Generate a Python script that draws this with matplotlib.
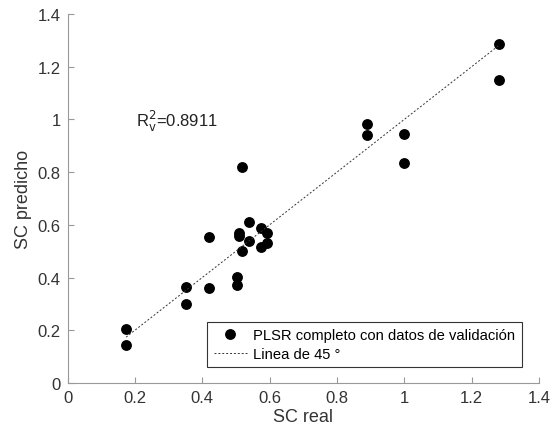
import matplotlib
matplotlib.use("Agg")
import matplotlib.pyplot as plt

sc_real = [0.174, 0.174, 0.352, 0.352, 0.420, 0.420, 0.503, 0.503, 0.509, 0.509,
           0.517, 0.539, 0.539, 0.575, 0.575, 0.591, 0.591, 0.517, 0.888, 0.888,
           0.999, 0.999, 1.282, 1.282]
sc_pred = [0.204, 0.143, 0.363, 0.300, 0.553, 0.360, 0.403, 0.372, 0.568, 0.558,
           0.502, 0.612, 0.539, 0.587, 0.515, 0.570, 0.530, 0.818, 0.984, 0.942,
           0.945, 0.835, 1.285, 1.148]
ticks = [0, 0.2, 0.4, 0.6, 0.8, 1, 1.2, 1.4]
tick_labels = ["0", "0.2", "0.4", "0.6", "0.8", "1", "1.2", "1.4"]

plt.rcParams['font.family'] = ['Liberation Sans', 'DejaVu Sans']

fig = plt.figure(figsize=(5.52, 4.39), dpi=100)
ax = fig.add_axes([0.1223, 0.1253, 0.8541, 0.8405])

ax.plot(sc_real, sc_pred, 'o', color='black', markersize=6.8, linestyle='none',
        label='PLSR completo con datos de validación')
lo, hi = min(sc_real), max(sc_real)
ax.plot([lo, hi], [lo, hi], linestyle=(0, (2, 2)), color='#333333', linewidth=0.7,
        label='Linea de 45 °')

ax.set_xlim(0, 1.4)
ax.set_ylim(0, 1.4)
ax.set_xticks(ticks)
ax.set_xticklabels(tick_labels)
ax.set_yticks(ticks)
ax.set_yticklabels(tick_labels)
for s in ['top', 'right']:
    ax.spines[s].set_visible(False)
for s in ['left', 'bottom']:
    ax.spines[s].set_color('#999999')
    ax.spines[s].set_linewidth(0.8)
ax.tick_params(direction='in', length=4, color='#999999', labelsize=12,
               labelcolor='#333333', pad=5)
ax.set_xlabel('SC real', fontsize=13, color='#333333', labelpad=2)
ax.set_ylabel('SC predicho', fontsize=13, color='#333333', labelpad=4)

ax.text(0.203, 0.997, r'R$_{\mathrm{v}}^{2}$=0.8911', fontsize=12, color='#222222',
        va='center', ha='left')

leg = ax.legend(loc='lower right', bbox_to_anchor=(0.964, 0.042), fontsize=10.6,
                frameon=True, fancybox=False, framealpha=1, edgecolor='#333333',
                borderpad=0.45, labelspacing=0.3, handlelength=2.3, handletextpad=0.4,
                borderaxespad=0)
leg.get_frame().set_linewidth(0.8)

fig.savefig('out.png', dpi=100)
